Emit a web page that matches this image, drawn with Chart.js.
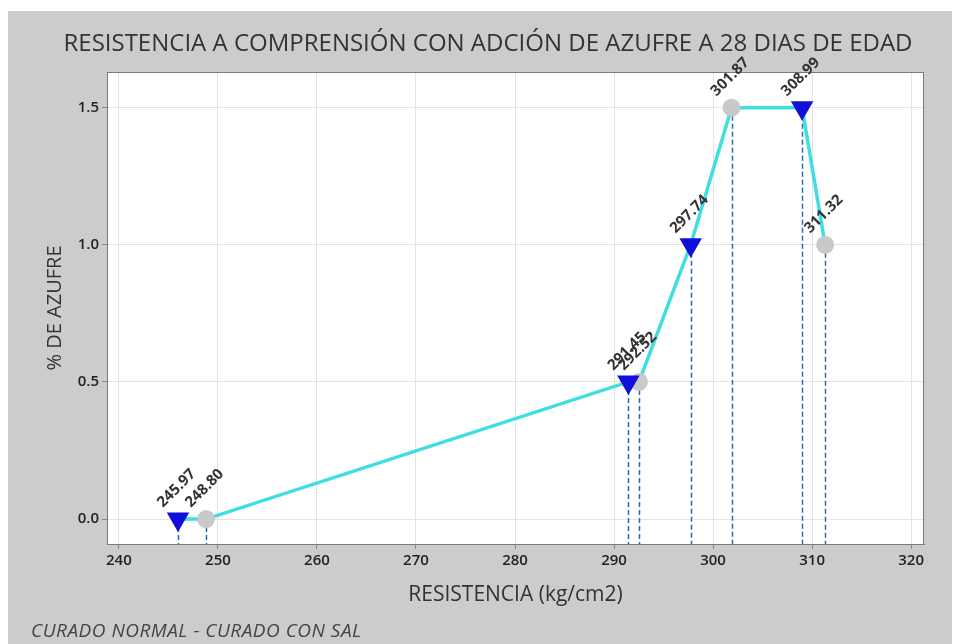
<!DOCTYPE html>
<html>
<head>
<meta charset="utf-8">
<script src="https://cdn.jsdelivr.net/npm/chart.js@4.4.1/dist/chart.umd.min.js"></script>
<style>
  html, body { margin: 0; padding: 0; background: #fff; }
  #wrap { width: 954px; height: 644px; }
</style>
</head>
<body>
<div id="wrap"><canvas id="chart" width="954" height="644"></canvas></div>
<script>
// curado normal (triangles) and curado con sal (circles)
const normalX = [245.97, 291.45, 297.74, 308.99];
const normalY = [0.0, 0.5, 1.0, 1.5];
const salX = [248.80, 292.52, 301.87, 311.32];
const salY = [0.0, 0.5, 1.5, 1.0];

const xTicks = [240, 250, 260, 270, 280, 290, 300, 310, 320];
const yTicks = [0.0, 0.5, 1.0, 1.5];

const titleText = 'RESISTENCIA A COMPRENSIÓN CON ADCIÓN DE AZUFRE A 28 DIAS DE EDAD';
const xTitle = 'RESISTENCIA (kg/cm2)';
const yTitle = '% DE AZUFRE';
const footText = 'CURADO NORMAL - CURADO CON SAL';

const normalPts = normalX.map((x, i) => ({ x: x, y: normalY[i] }));
const salPts = salX.map((x, i) => ({ x: x, y: salY[i] }));
const linePts = normalPts.concat(salPts).sort((a, b) => a.x - b.x);

const FONT = '"Open Sans", "Noto Sans", sans-serif';

// background panel, white plot area, drop lines
const backdrop = {
  id: 'backdrop',
  beforeDraw(chart) {
    const ctx = chart.ctx, a = chart.chartArea;
    ctx.save();
    ctx.fillStyle = '#fff';
    ctx.fillRect(0, 0, chart.width, chart.height);
    ctx.fillStyle = '#cccccc';
    ctx.fillRect(8, 11, 944, 633);
    ctx.fillStyle = '#fff';
    ctx.fillRect(a.left, a.top, a.right - a.left, a.bottom - a.top);
    ctx.restore();
  },
  beforeDatasetsDraw(chart) {
    const ctx = chart.ctx, a = chart.chartArea;
    const xs = chart.scales.x, ys = chart.scales.y;
    ctx.save();
    ctx.strokeStyle = '#1f6cc4';
    ctx.lineWidth = 1.5;
    ctx.setLineDash([5, 3]);
    linePts.forEach(p => {
      const px = Math.round(xs.getPixelForValue(p.x)) + 0.5;
      ctx.beginPath();
      ctx.moveTo(px, ys.getPixelForValue(p.y));
      ctx.lineTo(px, a.bottom);
      ctx.stroke();
    });
    ctx.restore();
  },
  afterDraw(chart) {
    const ctx = chart.ctx, a = chart.chartArea;
    const xs = chart.scales.x, ys = chart.scales.y;
    ctx.save();
    // frame
    ctx.strokeStyle = '#7a7a7a';
    ctx.lineWidth = 1;
    ctx.strokeRect(a.left + 0.5, a.top + 0.5, a.right - a.left - 1, a.bottom - a.top);

    // point labels
    ctx.fillStyle = '#333';
    ctx.font = 'bold 15px ' + FONT;
    ctx.textAlign = 'left';
    ctx.textBaseline = 'alphabetic';
    linePts.forEach(p => {
      const px = xs.getPixelForValue(p.x), py = ys.getPixelForValue(p.y);
      ctx.save();
      ctx.translate(px - 15, py - 11);
      ctx.rotate(-Math.PI / 4);
      ctx.fillText(p.x.toFixed(2), 0, 0);
      ctx.restore();
    });

    // titles
    ctx.fillStyle = '#333';
    ctx.textAlign = 'center';
    ctx.textBaseline = 'middle';
    ctx.font = '24px ' + FONT;
    ctx.fillText(titleText, 488, 44);
    ctx.font = '21px ' + FONT;
    ctx.fillText(xTitle, (a.left + a.right) / 2, 595);
    ctx.font = '20px ' + FONT;
    ctx.save();
    ctx.translate(55, (a.top + a.bottom) / 2);
    ctx.rotate(-Math.PI / 2);
    ctx.fillText(yTitle, 0, 0);
    ctx.restore();
    ctx.fillStyle = '#444';
    ctx.textAlign = 'left';
    ctx.font = 'italic 19px ' + FONT;
    ctx.letterSpacing = '0.5px';
    ctx.fillText(footText, 31, 632);
    ctx.restore();
  }
};

new Chart(document.getElementById('chart'), {
  type: 'scatter',
  data: {
    datasets: [
      {
        label: 'CURADO NORMAL',
        data: normalPts,
        pointStyle: 'triangle',
        pointRotation: 180,
        pointRadius: 13,
        pointHoverRadius: 13,
        backgroundColor: '#1010d8',
        borderColor: '#1010d8',
        borderWidth: 0,
        order: 1
      },
      {
        label: 'CURADO CON SAL',
        data: salPts,
        pointStyle: 'circle',
        pointRadius: 9,
        pointHoverRadius: 9,
        backgroundColor: '#c9c9c9',
        borderColor: '#c9c9c9',
        borderWidth: 0,
        order: 1
      },
      {
        label: 'linea',
        data: linePts,
        showLine: true,
        borderColor: '#40dede',
        borderWidth: 3.5,
        pointRadius: 0,
        order: 2
      }
    ]
  },
  options: {
    responsive: false,
    animation: false,
    layout: { padding: { left: 0, top: 72, right: 30, bottom: 0 } },
    plugins: {
      legend: { display: false },
      tooltip: { enabled: false },
      title: { display: false }
    },
    scales: {
      x: {
        type: 'linear',
        min: 238.8,
        max: 321.3,
        afterFit(scale) { scale.height = 100; },
        afterBuildTicks(scale) { scale.ticks = xTicks.map(v => ({ value: v })); },
        ticks: {
          includeBounds: false,
          color: '#222',
          font: { family: FONT, size: 15, weight: '600' },
          padding: 3,
          maxRotation: 0,
          callback: v => String(v)
        },
        grid: { color: '#e4e4e4', tickColor: '#888', tickLength: 5, lineWidth: 1 },
        border: { color: '#7a7a7a' }
      },
      y: {
        type: 'linear',
        min: -0.091,
        max: 1.63,
        afterFit(scale) { scale.width = 107; },
        afterBuildTicks(scale) { scale.ticks = yTicks.map(v => ({ value: v })); },
        ticks: {
          includeBounds: false,
          color: '#222',
          font: { family: FONT, size: 15, weight: '600' },
          padding: 3,
          callback: v => Number(v).toFixed(1)
        },
        grid: { color: '#e4e4e4', tickColor: '#888', tickLength: 5, lineWidth: 1 },
        border: { color: '#7a7a7a' }
      }
    }
  },
  plugins: [backdrop]
});
</script>
</body>
</html>
